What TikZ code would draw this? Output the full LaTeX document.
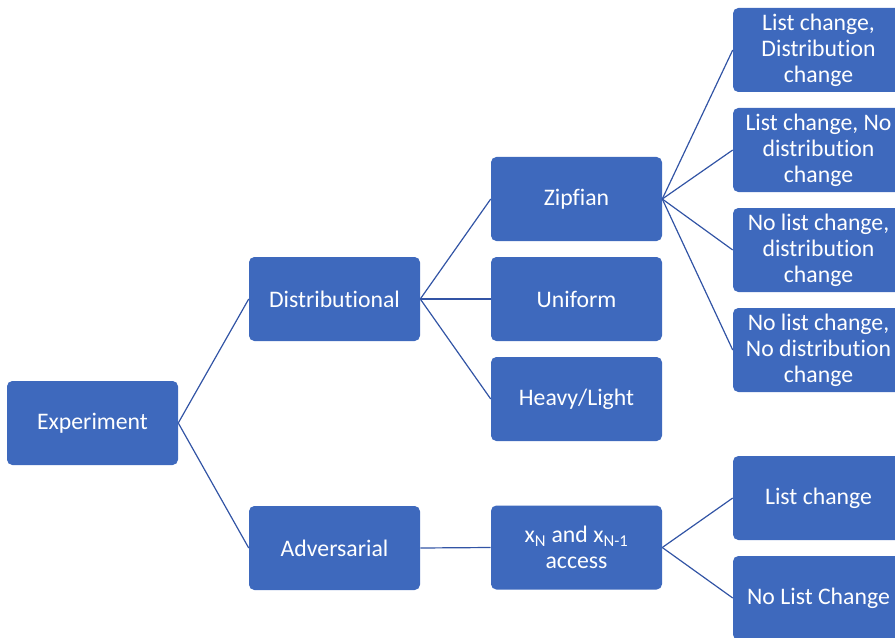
\documentclass[tikz,border=0pt]{standalone}
\usepackage{fontspec}
\setmainfont[Ligatures=NoCommon,Contextuals=NoAlternate]{Carlito}
\definecolor{boxblue}{RGB}{62,105,189}
\definecolor{lineblue}{RGB}{50,84,165}
\begin{document}
\begin{tikzpicture}[x=.75pt,y=-.75pt,
every node/.style={font=\fontsize{17.8}{19.5}\selectfont,text=white},
box/.style={fill=boxblue,rounded corners=4pt,minimum width=128.25pt,minimum height=63pt,inner sep=1pt,align=center},
link/.style={draw=lineblue,line width=.9pt}]
\clip (0,0) rectangle (895,638);
\node[box] (exp) at (92.5,423) {Experiment};
\node[box] (dist) at (334.5,299) {Distributional};
\node[box] (adv) at (334.5,548) {Adversarial};
\node[box] (zipf) at (576.5,199) {Zipfian};
\node[box] (unif) at (576.5,299) {Uniform};
\node[box] (heavy) at (576.5,399) {Heavy/Light};
\node[box] (acc) at (576.5,547.5) {x\textsubscript{N} and x\textsubscript{N-1}\\ access};
\node[box] (lcdc) at (818.5,50) {List change,\\ Distribution\\ change};
\node[box] (lcnd) at (818.5,150) {List change, No\\ distribution\\ change};
\node[box] (nldc) at (818.5,250) {No list change,\\ distribution\\ change};
\node[box] (nlnd) at (818.5,350) {No list change,\\ No distribution\\ change};
\node[box] (lc) at (818.5,498) {List change};
\node[box] (nlc) at (818.5,598) {No List Change};
\draw[link] (exp.east)--(dist.west);
\draw[link] (exp.east)--(adv.west);
\draw[link] (dist.east)--(zipf.west);
\draw[link] (dist.east)--(unif.west);
\draw[link] (dist.east)--(heavy.west);
\draw[link] (zipf.east)--(lcdc.west);
\draw[link] (zipf.east)--(lcnd.west);
\draw[link] (zipf.east)--(nldc.west);
\draw[link] (zipf.east)--(nlnd.west);
\draw[link] (adv.east)--(acc.west);
\draw[link] (acc.east)--(lc.west);
\draw[link] (acc.east)--(nlc.west);
\end{tikzpicture}
\end{document}
